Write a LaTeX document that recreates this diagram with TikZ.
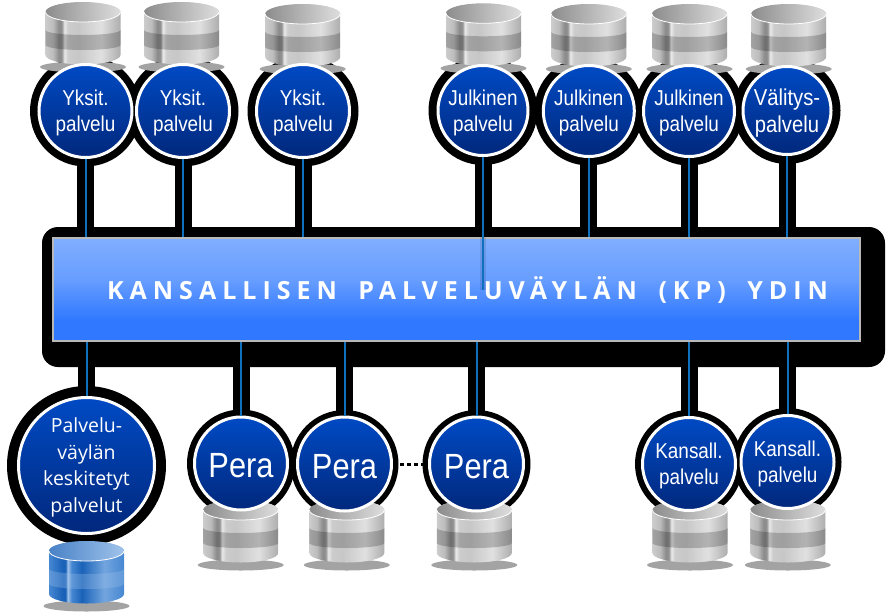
\documentclass[tikz,border=0pt]{standalone}
\usepackage{fontspec}
\usetikzlibrary{backgrounds}
\setmainfont{Liberation Sans}
\newfontfamily\srvfamily[FakeStretch=.88]{Liberation Sans}
\newfontfamily\keskfamily{Open Sans}
\newfontfamily\titlefamily[LetterSpace=24]{Open Sans}
\definecolor{kptop}{RGB}{128,174,255}
\definecolor{kpbottom}{RGB}{47,120,255}
\definecolor{srvtop}{RGB}{0,74,196}
\definecolor{srvbottom}{RGB}{1,40,124}
\definecolor{wire}{RGB}{15,112,190}
\definecolor{bluedark}{RGB}{26,98,184}
\definecolor{bluemid}{RGB}{70,135,210}
\definecolor{bluelite}{RGB}{160,195,235}
% disk shadings
\pgfdeclarehorizontalshading{graybody}{100bp}{color(0bp)=(black!20); color(25bp)=(black!20); color(30bp)=(black!26); color(34bp)=(black!46);
  color(36bp)=(black!42); color(37.5bp)=(black!8); color(40bp)=(black!20); color(47bp)=(black!22);
  color(62bp)=(black!12); color(75bp)=(black!32); color(100bp)=(black!32)}
\pgfdeclarehorizontalshading{graylid}{100bp}{color(0bp)=(black!45); color(25bp)=(black!45); color(75bp)=(black!13); color(100bp)=(black!13)}
\pgfdeclarehorizontalshading{bluebody}{100bp}{color(0bp)=(bluemid); color(25bp)=(bluemid); color(34bp)=(bluedark);
  color(36bp)=(bluedark); color(37.5bp)=(bluelite); color(40bp)=(bluemid); color(47bp)=(bluedark);
  color(62bp)=(bluelite!50!bluemid); color(75bp)=(bluemid); color(100bp)=(bluemid)}
\pgfdeclarehorizontalshading{bluelid}{100bp}{color(0bp)=(bluedark!80); color(25bp)=(bluedark!80); color(75bp)=(bluelite); color(100bp)=(bluelite)}
\pgfdeclareverticalshading{kpshade}{100bp}{color(0bp)=(kpbottom); color(25bp)=(kpbottom); color(35bp)=(kpbottom); color(55bp)=(kptop!70!kpbottom); color(75bp)=(kptop); color(100bp)=(kptop)}
\tikzset{
  srv/.style={circle,draw=white,line width=3pt,top color=srvtop,bottom color=srvbottom,
    text=white,align=center,inner sep=0pt},
  srvtext/.style={font=\srvfamily\fontsize{21.5}{26}\selectfont,execute at begin node={\rule{0pt}{45.8pt}}},
  peratext/.style={font=\srvfamily\fontsize{35}{35}\selectfont,execute at begin node={\rule{0pt}{29pt}}},
  halo/.style={fill=black,shift={(1.5,1)}},
  stem/.style={draw=black,line width=17pt,shift={(1.5,0)}},
  wireline/.style={draw=wire,line width=2pt},
  grayband/.style={fill=black,opacity=.2},
  blueband/.style={fill=bluelite,opacity=.3}
}
% lid centre x, lid centre y, shading prefix
\newcommand{\dbdisk}[3]{
  \begin{scope}[shift={(#1,#2)}]
    \fill[black!36] (0,55) ellipse [x radius=43pt,y radius=5.5pt];
    \shade[shading=#3body] (-37.5,0) -- (-37.5,43)
      arc [start angle=180,end angle=360,x radius=37.5pt,y radius=9.5pt]
      -- (37.5,0) arc [start angle=0,end angle=180,x radius=37.5pt,y radius=9.5pt] -- cycle;
    \path[#3band] (-37.5,18)
      arc [start angle=180,end angle=360,x radius=37.5pt,y radius=5pt]
      -- (37.5,33) arc [start angle=0,end angle=-180,x radius=37.5pt,y radius=5pt] -- cycle;
    \shade[shading=#3lid] (0,0) ellipse [x radius=37.5pt,y radius=10pt];
    \draw[white,line width=.8pt] (-37.5,0)
      arc [start angle=180,end angle=360,x radius=37.5pt,y radius=10pt];
  \end{scope}
}
\begin{document}
\begin{tikzpicture}[x=1pt,y=-1pt]
  \useasboundingbox (0,0) rectangle (890,613);
  \dbdisk{83}{12}{gray}
  \dbdisk{181.5}{12}{gray}
  \dbdisk{302.7}{14}{gray}
  \dbdisk{483.5}{13.3}{gray}
  \dbdisk{588.8}{14}{gray}
  \dbdisk{689.5}{14}{gray}
  \dbdisk{788.7}{14}{gray}
  \dbdisk{240.7}{510}{gray}
  \dbdisk{346.8}{510}{gray}
  \dbdisk{474.3}{510}{gray}
  \dbdisk{690}{510}{gray}
  \dbdisk{787.8}{510}{gray}
  \dbdisk{86.5}{551}{blue}
  % services above the core
  \node[srv,srvtext,minimum size=93pt] (yk1) at (85.5,111) {Yksit.\\palvelu};
  \node[srv,srvtext,minimum size=93pt] (yk2) at (183,111) {Yksit.\\palvelu};
  \node[srv,srvtext,minimum size=93pt] (yk3) at (303,111) {Yksit.\\palvelu};
  \node[srv,srvtext,minimum size=90pt] (jk1) at (483,110.5) {Julkinen\\palvelu};
  \node[srv,srvtext,minimum size=91pt] (jk2) at (588.8,111) {Julkinen\\palvelu};
  \node[srv,srvtext,minimum size=91pt] (jk3) at (689,111) {Julkinen\\palvelu};
  \node[srv,minimum size=88pt,font=\srvfamily\fontsize{23}{27}\selectfont,execute at begin node={\rule{0pt}{48pt}}] (vy1) at (787,110.5) {Välitys-\\palvelu};
  % services below the core
  \node[srv,minimum size=136pt,font=\keskfamily\fontsize{19.5}{26.5}\selectfont,execute at begin node={\rule{0pt}{98.3pt}}] (ks1) at (86.5,465.5) {Palvelu-\\väylän\\keskitetyt\\palvelut};
  \node[srv,peratext,minimum size=93pt] (pr1) at (241,463.5) {Pera};
  \node[srv,peratext,minimum size=94pt] (pr2) at (344.5,464) {Pera};
  \node[srv,peratext,minimum size=94pt] (pr3) at (476.5,464) {Pera};
  \node[srv,srvtext,minimum size=93pt] (ka1) at (689,464) {Kansall.\\palvelu};
  \node[srv,srvtext,minimum size=93pt] (ka2) at (787.5,462) {Kansall.\\palvelu};
  % the core
  \node[draw=black!28,line width=2pt,shading=kpshade,minimum width=807pt,minimum height=103pt,inner sep=0pt] (panel) at (456.3,289.3) {};
  \coordinate (jkend) at (483,290);
  \begin{scope}[on background layer]
    \fill[black,rounded corners=16pt] (42,227) rectangle (885,367);
    \fill[halo] (yk1) circle (55.5pt);
    \fill[halo] (yk2) circle (55.5pt);
    \fill[halo] (yk3) circle (55.5pt);
    \fill[halo] (jk1) circle (54.5pt);
    \fill[halo] (jk2) circle (54.5pt);
    \fill[halo] (jk3) circle (54.5pt);
    \fill[halo] (vy1) circle (53.5pt);
    \fill[halo] (ks1) circle (79.5pt);
    \fill[halo] (pr1) circle (54pt);
    \fill[halo] (pr2) circle (54pt);
    \fill[halo] (pr3) circle (54pt);
    \fill[halo] (ka1) circle (54pt);
    \fill[halo] (ka2) circle (54pt);
    \draw[stem] (yk1) -- (yk1 |- panel.north) (yk2) -- (yk2 |- panel.north)
      (yk3) -- (yk3 |- panel.north) (jk1) -- (jk1 |- panel.north)
      (jk2) -- (jk2 |- panel.north) (jk3) -- (jk3 |- panel.north)
      (vy1) -- (vy1 |- panel.north);
    \draw[stem] (ks1) -- (ks1 |- panel.south) (pr1) -- (pr1 |- panel.south)
      (pr2) -- (pr2 |- panel.south) (pr3) -- (pr3 |- panel.south)
      (ka1) -- (ka1 |- panel.south) (ka2) -- (ka2 |- panel.south);
    \draw[line width=3pt,dash pattern=on 4pt off 3pt] (pr2) -- (pr3);
  \end{scope}
  \draw[wireline] (yk1.south) -- (yk1.south |- panel.north);
  \draw[wireline] (yk2.south) -- (yk2.south |- panel.north);
  \draw[wireline] (yk3.south) -- (yk3.south |- panel.north);
  \draw[draw=black,opacity=.1,line width=6pt] (jk1.south |- panel.north) -- (jkend);
  \draw[wireline] (jk1.south) -- (jkend);
  \draw[wireline] (jk2.south) -- (jk2.south |- panel.north);
  \draw[wireline] (jk3.south) -- (jk3.south |- panel.north);
  \draw[wireline] (vy1.south) -- (vy1.south |- panel.north);
  \draw[wireline] (ks1.north) -- (ks1.north |- panel.south);
  \draw[wireline] (pr1.north) -- (pr1.north |- panel.south);
  \draw[wireline] (pr2.north) -- (pr2.north |- panel.south);
  \draw[wireline] (pr3.north) -- (pr3.north |- panel.south);
  \draw[wireline] (ka1.north) -- (ka1.north |- panel.south);
  \draw[wireline] (ka2.north) -- (ka2.north |- panel.south);
  \node[text=white,inner sep=0pt,font=\titlefamily\bfseries\fontsize{25}{25}\selectfont] (kptitle) at (467.5,290) {KANSALLISEN\hspace{9pt} PALVELUVÄYLÄN\hspace{9pt} (KP)\hspace{9pt} YDIN};
\end{tikzpicture}
\end{document}
